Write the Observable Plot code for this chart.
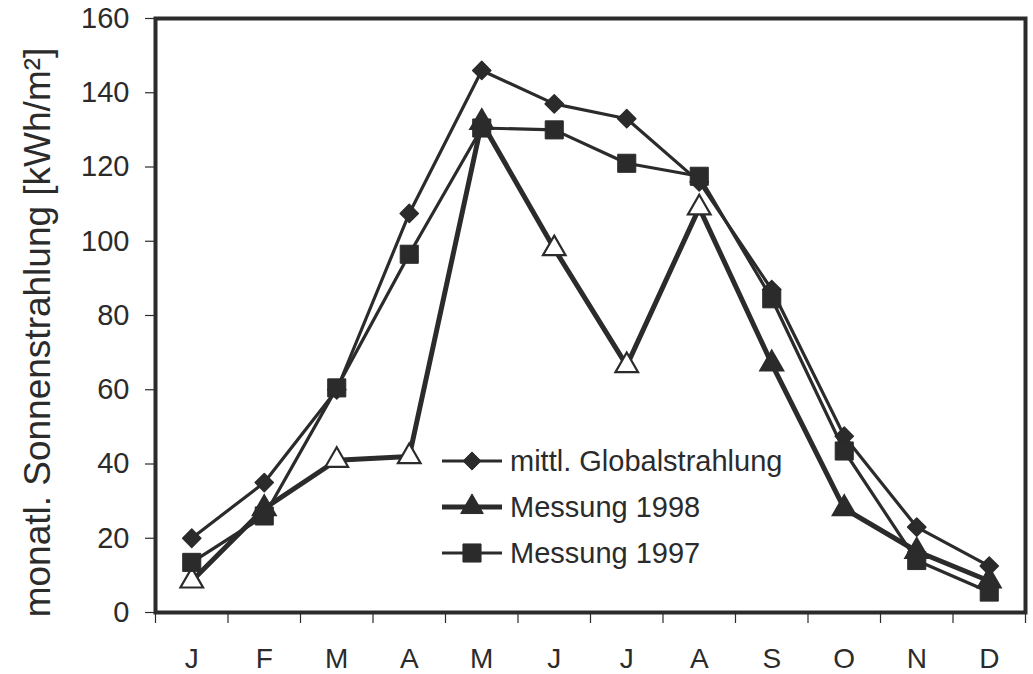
<!DOCTYPE html>
<html>
<head>
<meta charset="utf-8">
<script src="https://cdn.jsdelivr.net/npm/d3@7"></script>
<script src="https://cdn.jsdelivr.net/npm/@observablehq/plot@0.6"></script>
<style>
  html, body { margin: 0; padding: 0; background: #fff; }
  #wrap { position: relative; width: 1033px; height: 674px; font-family: "Liberation Sans", Arial, sans-serif; }
  #legend { position: absolute; left: 0; top: 0; pointer-events: none; }
</style>
</head>
<body>
<div id="wrap"></div>
<script>
// ---- data ----
const months = ["J", "F", "M", "A", "M", "J", "J", "A", "S", "O", "N", "D"];
const globalstrahlung = [20, 35, 60, 107.5, 146, 137, 133, 116, 87, 47.5, 23, 12.5];
const messung1998 = [8.5, 28, 41, 42, 132, 98, 66.5, 109, 67, 28, 16.5, 8.5];
const messung1997 = [13.5, 26, 60.5, 96.5, 130.5, 130, 121, 117.5, 84.5, 43.5, 14, 5.5];
const seriesNames = ["mittl. Globalstrahlung", "Messung 1998", "Messung 1997"];
const yLabel = "monatl. Sonnenstrahlung [kWh/m²]";
const yTicks = [0, 20, 40, 60, 80, 100, 120, 140, 160];

// ---- styling ----
const ink = "#2b2b2b";
const openTriangleIdx = [0, 2, 3, 5, 6, 7];
const font = "'Liberation Sans', Arial, sans-serif";

const toRows = (vals) => vals.map((v, i) => ({i, x: i + 0.5, y: v}));
const gRows = toRows(globalstrahlung);
const r98 = toRows(messung1998);
const r97 = toRows(messung1997);

const chart = Plot.plot({
  width: 1033,
  height: 674,
  marginTop: 18,
  marginRight: 8,
  marginBottom: 62,
  marginLeft: 155,
  style: {fontFamily: font, background: "#fff", color: ink},
  x: {domain: [0, 12], axis: null},
  y: {domain: [0, 160], axis: null},
  marks: [
    // x ticks at band boundaries
    Plot.axisX({ticks: d3.range(13), tickFormat: () => "", tickSize: 11, stroke: ink, strokeWidth: 1.2, anchor: "bottom", label: null}),
    // x labels at band centres
    Plot.axisX({ticks: d3.range(12).map(i => i + 0.5), tickFormat: d => months[Math.round(d - 0.5)], tickSize: 0, tickPadding: 36, fontSize: 28, anchor: "bottom", fill: ink, label: null}),
    Plot.axisY({ticks: yTicks, tickSize: 10, tickPadding: 16, fontSize: 29, anchor: "left", stroke: ink, strokeWidth: 1.2, fill: ink, label: null}),
    Plot.text([yLabel], {frameAnchor: "left", textAnchor: "middle", rotate: -90, dx: -117, dy: 17, fontSize: 37, fill: ink, text: d => d}),
    Plot.line(gRows, {x: "x", y: "y", stroke: ink, strokeWidth: 3.2}),
    Plot.line(r98, {x: "x", y: "y", stroke: ink, strokeWidth: 5}),
    Plot.line(r97, {x: "x", y: "y", stroke: ink, strokeWidth: 3.2}),
    Plot.dot(gRows, {x: "x", y: "y", symbol: "diamond2", r: 8.2, fill: ink, stroke: ink, strokeWidth: 1.5, strokeLinejoin: "round"}),
    Plot.dot(r98, {x: "x", y: "y", symbol: "triangle", r: 8.4, fill: d => openTriangleIdx.includes(d.i) ? "#fff" : ink, stroke: ink, strokeWidth: 2.2}),
    Plot.dot(r97, {x: "x", y: "y", symbol: "square", r: 10.2, fill: ink, stroke: ink, strokeWidth: 1}),
    Plot.frame({stroke: ink, strokeWidth: 4})
  ]
});

const wrap = document.getElementById("wrap");
wrap.appendChild(chart);

// ---- legend (overlay) ----
const legendRows = [
  {name: seriesNames[0], symbol: d3.symbolDiamond2, size: Math.PI * 8.2 * 8.2, lw: 3.2},
  {name: seriesNames[1], symbol: d3.symbolTriangle, size: Math.PI * 8.4 * 8.4, lw: 5},
  {name: seriesNames[2], symbol: d3.symbolSquare, size: Math.PI * 10.2 * 10.2, lw: 3.2}
];
const lg = d3.create("svg")
  .attr("id", "legend")
  .attr("width", 1033)
  .attr("height", 674);
const rowY0 = 461, rowStep = 46, lineX0 = 442, lineX1 = 502, textX = 510;
legendRows.forEach((r, k) => {
  const y = rowY0 + k * rowStep;
  lg.append("line").attr("x1", lineX0).attr("x2", lineX1).attr("y1", y).attr("y2", y)
    .attr("stroke", ink).attr("stroke-width", r.lw);
  lg.append("path").attr("d", d3.symbol(r.symbol, r.size)()).attr("transform", `translate(${(lineX0 + lineX1) / 2},${y})`)
    .attr("fill", ink).attr("stroke", ink).attr("stroke-linejoin", "round");
  lg.append("text").attr("x", textX).attr("y", y).attr("dy", "0.36em")
    .attr("font-size", 29).attr("fill", ink)
    .attr("font-family", font)
    .text(r.name);
});
wrap.appendChild(lg.node());
</script>
</body>
</html>
